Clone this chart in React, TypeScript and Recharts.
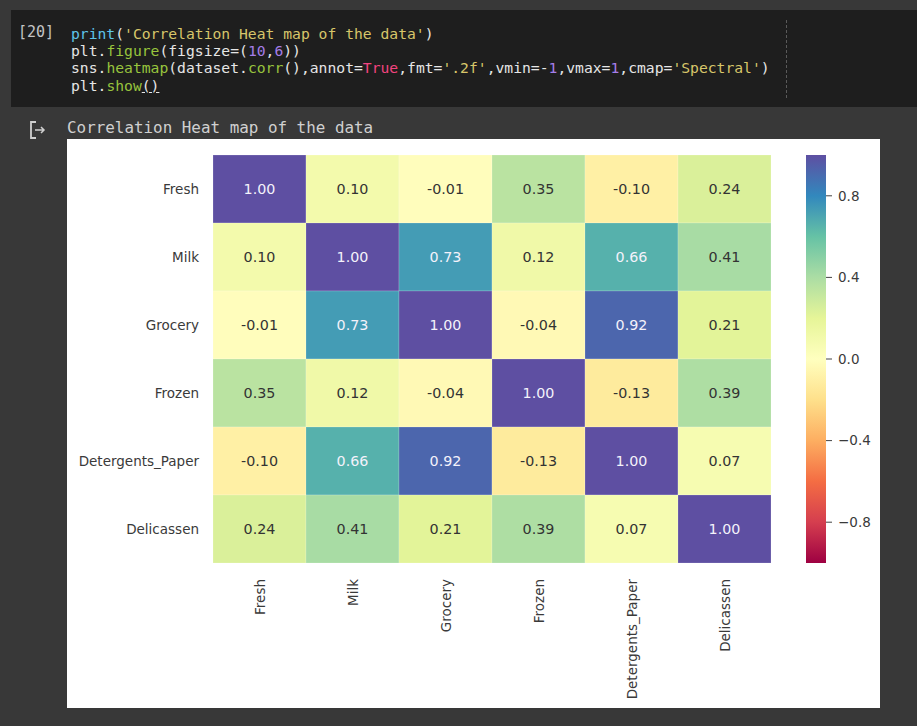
import React from 'react';
import { ScatterChart, Scatter, XAxis, YAxis, BarChart, Bar } from 'recharts';

const categories = ['Fresh', 'Milk', 'Grocery', 'Frozen', 'Detergents_Paper', 'Delicassen'];
const rowFresh = [1.0, 0.1, -0.01, 0.35, -0.1, 0.24];
const rowMilk = [0.1, 1.0, 0.73, 0.12, 0.66, 0.41];
const rowGrocery = [-0.01, 0.73, 1.0, -0.04, 0.92, 0.21];
const rowFrozen = [0.35, 0.12, -0.04, 1.0, -0.13, 0.39];
const rowDetergents = [-0.1, 0.66, 0.92, -0.13, 1.0, 0.07];
const rowDelicassen = [0.24, 0.41, 0.21, 0.39, 0.07, 1.0];
const matrix = [rowFresh, rowMilk, rowGrocery, rowFrozen, rowDetergents, rowDelicassen];
const colorbarTicks = [-0.8, -0.4, 0, 0.4, 0.8];
const spectral = ['#9e0142', '#d53e4f', '#f46d43', '#fdae61', '#fee08b', '#ffffbf', '#e6f598', '#abdda4', '#66c2a5', '#3288bd', '#5e4fa2'];

const cells = matrix.flatMap((row, r) => row.map((v, c) => ({ x: c + 0.5, y: r + 0.5, v })));
const colorbarData = [{ k: 'cb', v: [-1, 1] }];

function hexToRgb(h: string) {
  return [parseInt(h.slice(1, 3), 16), parseInt(h.slice(3, 5), 16), parseInt(h.slice(5, 7), 16)];
}
function spectralColor(v: number): number[] {
  const t = Math.max(0, Math.min(1, (v + 1) / 2)) * (spectral.length - 1);
  const i = Math.min(spectral.length - 2, Math.floor(t));
  const f = t - i;
  const a = hexToRgb(spectral[i]);
  const b = hexToRgb(spectral[i + 1]);
  return a.map((x, k) => Math.round(x + (b[k] - x) * f));
}
function luminance(rgb: number[]) {
  const lin = rgb.map((c) => {
    const s = c / 255;
    return s <= 0.03928 ? s / 12.92 : Math.pow((s + 0.055) / 1.055, 2.4);
  });
  return 0.2126 * lin[0] + 0.7152 * lin[1] + 0.0722 * lin[2];
}

const FIG_W = 813;
const FIG_H = 569;
const PLOT_W = 558;
const PLOT_H = 408;
const CELL_W = PLOT_W / categories.length;
const CELL_H = PLOT_H / categories.length;
const FONT = '"DejaVu Sans", sans-serif';
const TICK_COLOR = '#3a3a3a';

const HeatCell = (props: any) => {
  const { cx, cy, payload } = props;
  if (cx == null || cy == null) return null;
  const rgb = spectralColor(payload.v);
  const fill = `rgb(${rgb[0]},${rgb[1]},${rgb[2]})`;
  const txt = luminance(rgb) > 0.5 ? '#333333' : '#f4f2fb';
  return (
    <g>
      <rect x={cx - CELL_W / 2} y={cy - CELL_H / 2} width={CELL_W} height={CELL_H} fill={fill} stroke="rgba(255,255,255,0.25)" strokeWidth={0.7} />
      <text x={cx} y={cy} textAnchor="middle" dominantBaseline="central" fontSize={14.3} fontFamily={FONT} fill={txt}>
        {payload.v.toFixed(2)}
      </text>
    </g>
  );
};

const XTick = (props: any) => {
  const { x, y, payload } = props;
  const label = categories[Math.floor(payload.value)];
  return (
    <text x={x} y={y} transform={`rotate(-90, ${x}, ${y})`} textAnchor="end" dominantBaseline="central" fontSize={13.5} fontFamily={FONT} fill={TICK_COLOR}>
      {label}
    </text>
  );
};

const YTick = (props: any) => {
  const { x, y, payload } = props;
  const label = categories[Math.floor(payload.value)];
  return (
    <text x={x} y={y} textAnchor="end" dominantBaseline="central" fontSize={13.5} fontFamily={FONT} fill={TICK_COLOR}>
      {label}
    </text>
  );
};

const cbFormat = (v: number) => {
  const s = Math.abs(v).toFixed(1);
  return v < 0 ? '\u2212' + s : s;
};

const codeFont = '"DejaVu Sans Mono", monospace';
const C = {
  text: '#e6e6e6',
  fn: '#98c43d',
  print: '#5ec4ea',
  str: '#d7c66a',
  num: '#a57de8',
  kw: '#f2447f',
};

export default function App() {
  const centerTicks = categories.map((_, i) => i + 0.5);
  return (
    <div style={{ position: 'absolute', left: 0, top: 0, width: 917, height: 726, background: '#383838', overflow: 'hidden' }}>
      <svg width={0} height={0} style={{ position: 'absolute' }}>
        <defs>
          <linearGradient id="spectralGrad" x1="0" y1="0" x2="0" y2="1">
            {spectral.slice().reverse().map((c, i) => (
              <stop key={i} offset={`${(i / (spectral.length - 1)) * 100}%`} stopColor={c} />
            ))}
          </linearGradient>
        </defs>
      </svg>

      {/* code cell */}
      <div style={{ position: 'absolute', left: 11, top: 10, width: 906, height: 97, background: '#1e1e1e' }} />
      <div style={{ position: 'absolute', left: 18, top: 24, fontFamily: codeFont, fontSize: 15, lineHeight: '17.4px', color: '#c4c4c4', whiteSpace: 'pre' }}>[20]</div>
      <div style={{ position: 'absolute', left: 786, top: 20, width: 0, height: 78, borderLeft: '1px dashed #5a5a5a' }} />
      <div style={{ position: 'absolute', left: 71, top: 24.5, fontFamily: codeFont, fontSize: 14.7, lineHeight: '17.4px', color: C.text, whiteSpace: 'pre' }}>
        <div>
          <span style={{ color: C.print }}>print</span>(<span style={{ color: C.str }}>'Correlation Heat map of the data'</span>)
        </div>
        <div>
          plt.<span style={{ color: C.fn }}>figure</span>(figsize=(<span style={{ color: C.num }}>10</span>,<span style={{ color: C.num }}>6</span>))
        </div>
        <div>
          sns.<span style={{ color: C.fn }}>heatmap</span>(dataset.<span style={{ color: C.fn }}>corr</span>(),annot=<span style={{ color: C.kw }}>True</span>,fmt=<span style={{ color: C.str }}>'.2f'</span>,vmin=-<span style={{ color: C.num }}>1</span>,vmax=<span style={{ color: C.num }}>1</span>,cmap=<span style={{ color: C.str }}>'Spectral'</span>)
        </div>
        <div>
          plt.<span style={{ color: C.fn }}>show</span><span style={{ textDecoration: 'underline' }}>()</span>
        </div>
      </div>

      {/* output header */}
      <svg style={{ position: 'absolute', left: 27, top: 119 }} width={22} height={22}>
        <path d="M9 3 H4 V19 H9" fill="none" stroke="#cfcfcf" strokeWidth={1.8} />
        <path d="M8 11 H17 M14 8 L17 11 L14 14" fill="none" stroke="#cfcfcf" strokeWidth={1.5} />
      </svg>
      <div style={{ position: 'absolute', left: 67, top: 118, fontFamily: codeFont, fontSize: 15.9, lineHeight: '20px', color: '#d0d0d0', whiteSpace: 'pre' }}>
        Correlation Heat map of the data
      </div>

      {/* figure */}
      <div style={{ position: 'absolute', left: 67, top: 139, width: FIG_W, height: FIG_H, background: '#ffffff' }}>
        <ScatterChart width={FIG_W} height={FIG_H} margin={{ top: 16, right: FIG_W - 146 - PLOT_W, bottom: 0, left: 0 }}>
          <XAxis
            type="number"
            dataKey="x"
            domain={[0, categories.length]}
            ticks={centerTicks}
            interval={0}
            height={FIG_H - 16 - PLOT_H}
            axisLine={false}
            tickLine={false}
            tickSize={0}
            tickMargin={16}
            tick={<XTick />}
          />
          <YAxis
            type="number"
            dataKey="y"
            domain={[0, categories.length]}
            ticks={centerTicks}
            interval={0}
            reversed
            width={146}
            axisLine={false}
            tickLine={false}
            tickSize={0}
            tickMargin={14}
            tick={<YTick />}
          />
          <Scatter data={cells} shape={<HeatCell />} isAnimationActive={false} />
        </ScatterChart>

        <div style={{ position: 'absolute', left: 739, top: 0 }}>
          <BarChart width={74} height={FIG_H} data={colorbarData} margin={{ top: 16, right: 0, bottom: FIG_H - 16 - PLOT_H, left: 0 }} barCategoryGap={0}>
            <XAxis dataKey="k" hide />
            <YAxis
              orientation="right"
              type="number"
              domain={[-1, 1]}
              ticks={colorbarTicks}
              interval={0}
              width={54}
              axisLine={false}
              tickSize={6}
              tickMargin={6}
              tickLine={{ stroke: '#444444', strokeWidth: 1 }}
              tickFormatter={cbFormat}
              tick={{ fill: TICK_COLOR, fontSize: 13.5, fontFamily: FONT }}
            />
            <Bar dataKey="v" fill="url(#spectralGrad)" isAnimationActive={false} />
          </BarChart>
        </div>
      </div>
    </div>
  );
}
